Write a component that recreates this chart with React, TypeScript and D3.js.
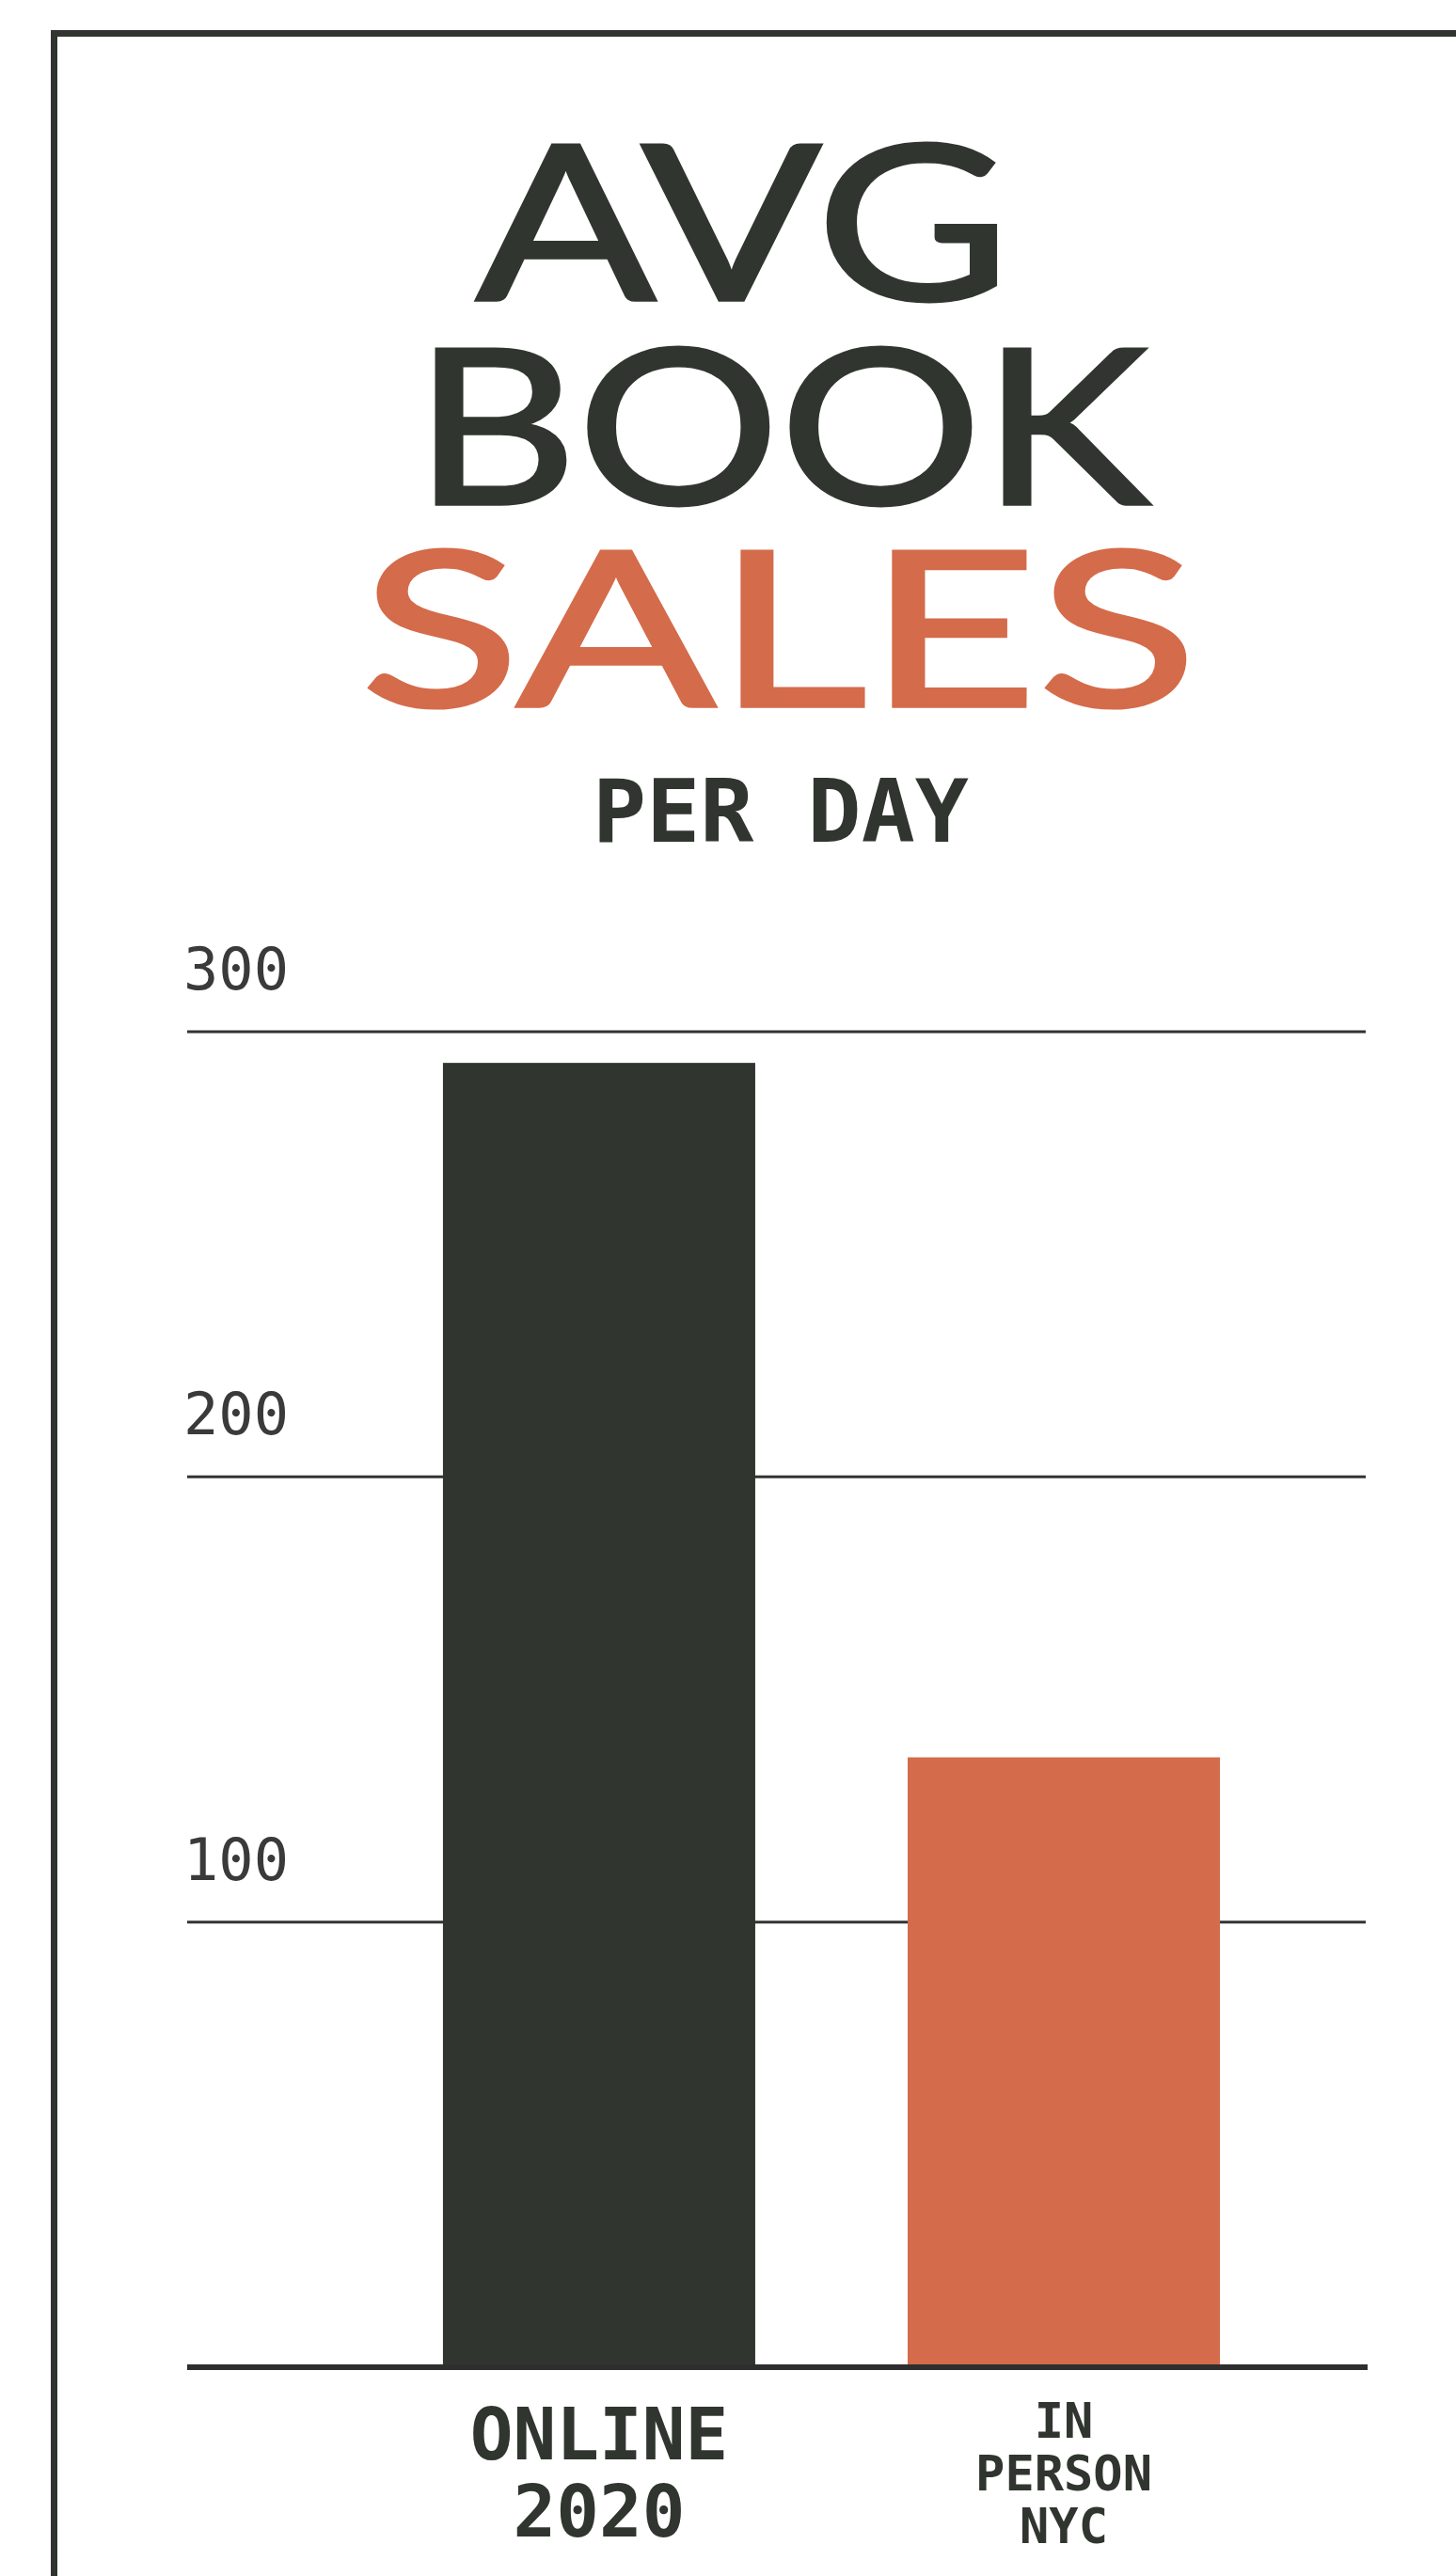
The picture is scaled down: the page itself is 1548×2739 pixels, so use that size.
import React from "react";
import * as d3 from "d3";

const categories = ["ONLINE 2020", "IN PERSON NYC"];
const categoryLines = [["ONLINE", "2020"], ["IN", "PERSON", "NYC"]];
const salesPerDay = [293, 137];
const yTicks = [100, 200, 300];
const titleLines = ["AVG", "BOOK", "SALES"];
const subtitle = "PER DAY";

const W = 1548;
const H = 2739;
const DARK = "#30362f";
const ORANGE = "#d46b4a";

export default function App() {
  const x = d3
    .scaleBand<string>()
    .domain(categories)
    .range([199, 1452])
    .paddingInner(0.328)
    .paddingOuter(0.432)
    .align(0.637);
  const y = d3.scaleLinear().domain([0, 300]).range([2517, 1097]);
  const barColors = [DARK, ORANGE];

  const titleSpecs = [
    { cx: 790, base: 320, len: 568, color: DARK },
    { cx: 831, base: 537, len: 782, color: DARK },
    { cx: 828, base: 752, len: 890, color: ORANGE },
  ];

  return (
    <div style={{ position: "absolute", left: 0, top: 0, background: "#fff" }}>
      <svg width={W} height={H} viewBox={`0 0 ${W} ${H}`} style={{ display: "block" }}>
        <rect x={0} y={0} width={W} height={H} fill="#fff" />
        {/* frame */}
        <rect x={57.5} y={35.5} width={W + 50} height={H + 50} fill="none" stroke={DARK} strokeWidth={7} />

        {/* title */}
        {titleLines.map((t, i) => (
          <text
            key={t}
            x={titleSpecs[i].cx}
            y={titleSpecs[i].base - 1}
            textAnchor="middle"
            fontFamily="Lato, 'Open Sans', sans-serif"
            fontSize={230}
            fontWeight={400}
            fill={titleSpecs[i].color}
            stroke={titleSpecs[i].color}
            strokeWidth={3.5}
            strokeLinejoin="miter"
            textLength={titleSpecs[i].len}
            lengthAdjust="spacingAndGlyphs"
          >
            {t}
          </text>
        ))}
        <text
          x={830}
          y={895}
          textAnchor="middle"
          fontFamily="'DejaVu Sans Mono', monospace"
          fontWeight={700}
          fontSize={92}
          fill={DARK}
          textLength={400}
          lengthAdjust="spacingAndGlyphs"
        >
          {subtitle}
        </text>

        {/* gridlines */}
        {yTicks.map((t) => (
          <g key={t}>
            <line x1={199} x2={1452} y1={y(t)} y2={y(t)} stroke="#333" strokeWidth={3} />
            <text
              x={195}
              y={y(t) - 45}
              fontFamily="'DejaVu Sans Mono', monospace"
              fontSize={62}
              fill="#3a3a3a"
            >
              {t}
            </text>
          </g>
        ))}

        {/* bars */}
        {categories.map((c, i) => (
          <rect
            key={c}
            x={x(c)}
            y={y(salesPerDay[i])}
            width={x.bandwidth()}
            height={y(0) - y(salesPerDay[i])}
            fill={barColors[i]}
          />
        ))}

        {/* axis */}
        <line x1={199} x2={1454} y1={y(0)} y2={y(0)} stroke="#2e2e2e" strokeWidth={6} />

        {/* x labels */}
        {categoryLines[0].map((l, j) => (
          <text
            key={l}
            x={(x(categories[0]) as number) + x.bandwidth() / 2}
            y={2615 + j * 82}
            textAnchor="middle"
            fontFamily="'DejaVu Sans Mono', monospace"
            fontWeight={700}
            fontSize={76}
            fill={DARK}
          >
            {l}
          </text>
        ))}
        {categoryLines[1].map((l, j) => (
          <text
            key={l}
            x={(x(categories[1]) as number) + x.bandwidth() / 2}
            y={2592 + j * 56}
            textAnchor="middle"
            fontFamily="'DejaVu Sans Mono', monospace"
            fontWeight={700}
            fontSize={52}
            fill={DARK}
          >
            {l}
          </text>
        ))}
      </svg>
    </div>
  );
}
